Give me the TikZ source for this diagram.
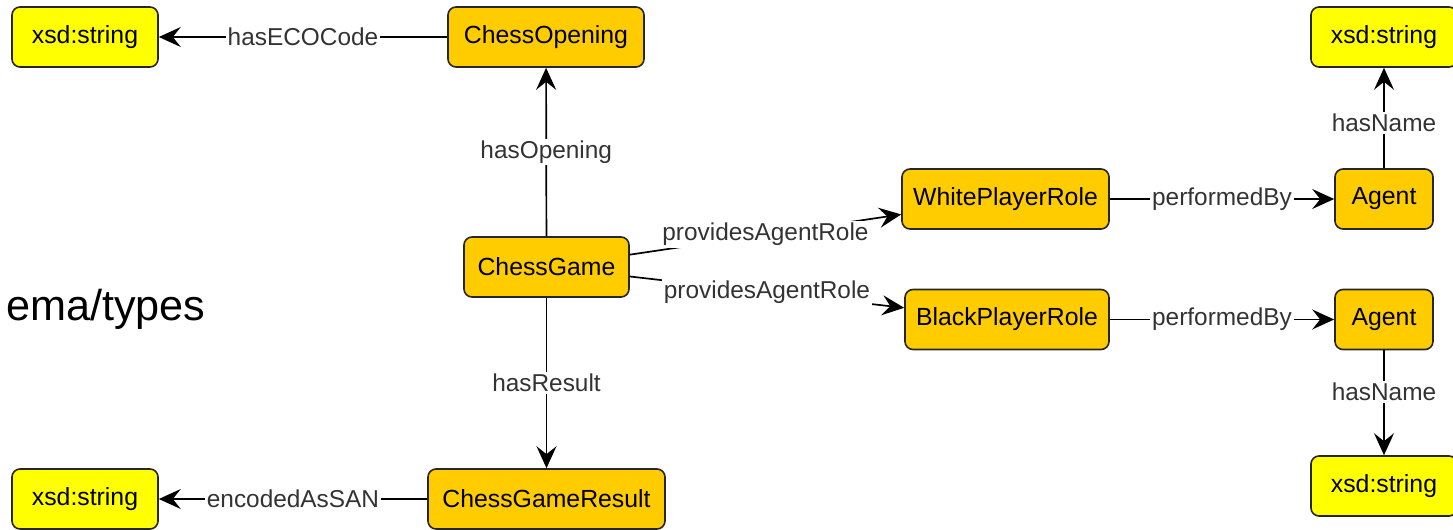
\documentclass[tikz,border=0pt]{standalone}
\usepackage{fontspec}
\setmainfont{Liberation Sans}
\usetikzlibrary{arrows.meta}
\definecolor{classfill}{HTML}{FFCC00}
\definecolor{typefill}{HTML}{FFFF00}
\definecolor{edgetext}{HTML}{333333}

\begin{document}
\begin{tikzpicture}[
  x=0.5pt, y=-0.5pt,
  owlclass/.style={draw=black!85, fill=classfill, rectangle, rounded corners=4pt,
                   line width=0.8pt, minimum height=30pt, inner sep=0pt,
                   font=\fontsize{12.4}{14}\selectfont},
  datatype/.style={owlclass, fill=typefill, minimum width=73pt},
  prop/.style={fill=white, inner sep=1pt, text=edgetext,
               font=\fontsize{12.2}{14}\selectfont},
  rel/.style={draw=black, line width=0.85pt,
              -{Stealth[length=11pt, width=10pt, inset=4pt]}}
]
\useasboundingbox (0,0) rectangle (1453,530);

\node[anchor=base east, inner sep=0pt, font=\fontsize{21.6}{26}\selectfont] (ns) at (206,320) {ema/types};

\node[datatype] (str1) at (85,37) {xsd:string};
\node[owlclass, minimum width=98pt] (opening) at (546,37) {ChessOpening};
\node[owlclass, minimum width=82.5pt] (game) at (546.5,267) {ChessGame};
\node[owlclass, minimum width=118.5pt] (result) at (546.5,499) {ChessGameResult};
\node[datatype] (str2) at (85,499) {xsd:string};
\node[owlclass, minimum width=103.5pt] (white) at (1005.5,199) {WhitePlayerRole};
\node[owlclass, minimum width=102pt] (black) at (1007,319.5) {BlackPlayerRole};
\node[owlclass, minimum width=49pt] (agentw) at (1384,199) {Agent};
\node[owlclass, minimum width=49pt] (agentb) at (1384,319.5) {Agent};
\node[datatype] (str3) at (1384,37) {xsd:string};
\node[datatype] (str4) at (1384,486) {xsd:string};

\draw[rel] (opening) -- node[prop] {hasECOCode} (str1);
\draw[rel] (game) -- node[prop] {hasOpening} (opening);
\draw[rel] (game) -- node[prop] {hasResult} (result);
\draw[rel] (result) -- node[prop] {encodedAsSAN} (str2);
\draw[rel] (game) -- node[prop] {providesAgentRole} (white);
\draw[rel] (game) -- node[prop] {providesAgentRole} (black);
\draw[rel] (white) -- node[prop] {performedBy} (agentw);
\draw[rel] (black) -- node[prop] {performedBy} (agentb);
\draw[rel] (agentw) -- node[prop, pos=0.45] {hasName} (str3);
\draw[rel] (agentb) -- node[prop, pos=0.4] {hasName} (str4);

\end{tikzpicture}
\end{document}
